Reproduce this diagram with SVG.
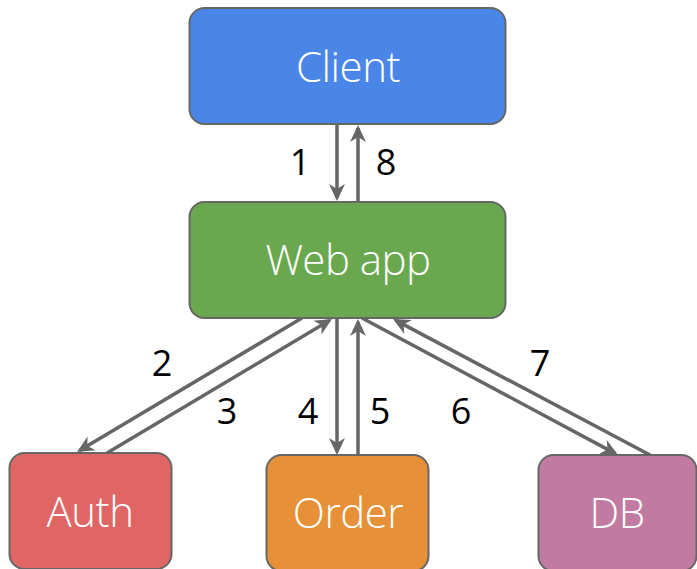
<svg xmlns="http://www.w3.org/2000/svg" width="697" height="569" viewBox="0 0 697 569">
<style>
.node rect{stroke:#666666;stroke-width:2}
.node text{font-family:"Open Sans","Noto Sans",sans-serif;font-size:42px;font-weight:300;fill:#ffffff;text-anchor:middle;letter-spacing:-0.5px}
.conn line{stroke:#666666;stroke-width:3.5;fill:none;marker-end:url(#ah)}
.lbl{font-family:"Open Sans","Noto Sans",sans-serif;font-size:36px;fill:#000000;text-anchor:middle}
</style>
<defs>
<marker id="ah" markerUnits="userSpaceOnUse" viewBox="0 0 20 20" markerWidth="20" markerHeight="20" refX="15" refY="10" orient="auto">
<path d="M1,2 L18,10 L1,18 L6,10 z" fill="#666666"/>
</marker>
</defs>
<rect width="697" height="569" fill="#ffffff"/>
<g id="connectors" class="conn">
<line x1="337" y1="125" x2="337" y2="198"/>
<line x1="358" y1="201" x2="358" y2="128"/>
<line x1="302" y1="318" x2="79.6" y2="450.5"/>
<line x1="107" y1="453" x2="329.4" y2="320.5"/>
<line x1="337" y1="318" x2="337" y2="452"/>
<line x1="358" y1="455" x2="358" y2="322"/>
<line x1="362" y1="318" x2="615.4" y2="453.6"/>
<line x1="650" y1="455" x2="395.7" y2="320.4"/>
</g>
<g id="labels">
<text class="lbl" x="300" y="175">1</text>
<text class="lbl" x="386" y="175">8</text>
<text class="lbl" x="162" y="376">2</text>
<text class="lbl" x="227" y="424">3</text>
<text class="lbl" x="308" y="424">4</text>
<text class="lbl" x="380" y="424">5</text>
<text class="lbl" x="461" y="424">6</text>
<text class="lbl" x="540" y="376">7</text>
</g>
<g id="client" class="node">
<rect x="189.5" y="8" width="316" height="116" rx="15" fill="#4a86e8"/>
<text x="348" y="82">Client</text>
</g>
<g id="webapp" class="node">
<rect x="189.5" y="202" width="316" height="116" rx="15" fill="#6aa84f"/>
<text x="348" y="275">Web app</text>
</g>
<g id="auth" class="node">
<rect x="9.5" y="453" width="162" height="116" rx="15" fill="#e06666"/>
<text x="90" y="527">Auth</text>
</g>
<g id="order" class="node">
<rect x="266.5" y="455" width="162" height="116" rx="15" fill="#e69138"/>
<text x="348" y="528">Order</text>
</g>
<g id="db" class="node">
<rect x="538.5" y="455" width="158" height="116" rx="15" fill="#c27ba0"/>
<text x="617" y="528">DB</text>
</g>
</svg>
